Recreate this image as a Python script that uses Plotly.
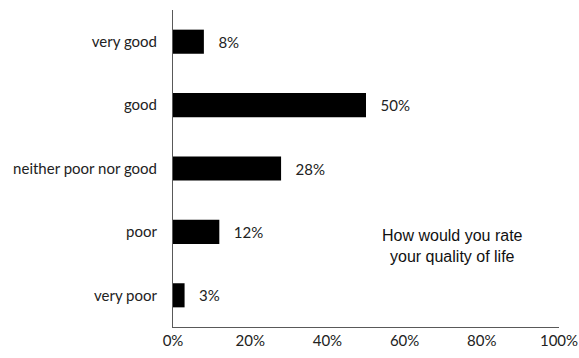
import plotly.graph_objects as go

categories = ["very good", "good", "neither poor nor good", "poor", "very poor"]
values = [0.08, 0.50, 0.28, 0.12, 0.03]
x_ticks = [0, 0.2, 0.4, 0.6, 0.8, 1.0]
x_tick_labels = ["0%", "20%", "40%", "60%", "80%", "100%"]
note = "How would you rate<br>your quality of life"

FONT = "Lato, Open Sans, sans-serif"

fig = go.Figure(go.Bar(
    x=values, y=categories, orientation="h",
    marker=dict(color="black", line=dict(width=0)),
    texttemplate="   %{x:.0%}", textposition="outside",
    textfont=dict(family=FONT, size=15, color="#222"),
    cliponaxis=False,
))

fig.update_layout(
    width=579, height=358,
    margin=dict(l=173, r=20, t=10, b=31, autoexpand=False),
    paper_bgcolor="white", plot_bgcolor="white",
    bargap=0.62, showlegend=False,
    font=dict(family=FONT, size=15, color="#222"),
    annotations=[dict(
        text=note, xref="paper", yref="paper", x=0.723, y=0.255,
        xanchor="center", yanchor="middle",
        showarrow=False, align="center",
        font=dict(family="Arial", size=16, color="#111"),
    )],
)
fig.update_xaxes(
    range=[0, 1.0], tickvals=x_ticks, ticktext=x_tick_labels, automargin=False,
    showgrid=False, zeroline=False, showline=True, linecolor="#595959", linewidth=1,
    ticks="", ticklen=0,
)
fig.update_yaxes(
    autorange="reversed", automargin=False, showgrid=False, zeroline=False,
    showline=True, linecolor="#595959", linewidth=1, ticks="", ticklabelstandoff=12,
)

fig.write_html("out.html")
